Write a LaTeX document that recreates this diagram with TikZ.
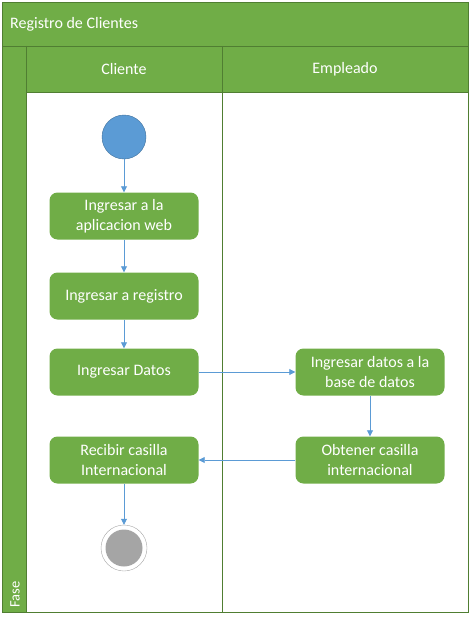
\documentclass[tikz,border=0pt]{standalone}
\usepackage{fontspec}
\setmainfont{Carlito}
\usetikzlibrary{arrows.meta}
\definecolor{verde}{HTML}{70AD47}
\definecolor{verdeosc}{HTML}{507E32}
\definecolor{azul}{HTML}{5B9BD5}
\definecolor{azulosc}{HTML}{41719C}
\definecolor{gris}{HTML}{A5A5A5}

\begin{document}
\begin{tikzpicture}[x=1pt,y=-1pt,font=\fontsize{16}{19.5}\selectfont,
  paso/.style={rectangle,rounded corners=8pt,fill=verde,text=white,
    minimum width=149pt,minimum height=47pt,align=center,inner sep=2pt},
  flecha/.style={draw=azul,line width=0.8pt,-{Triangle[length=6pt,width=6pt]}},
  rotulo/.style={text=white,inner sep=0pt}]
\useasboundingbox (0,0) rectangle (470,618);
% marco y carriles
\fill[verde] (2,2) rectangle (468,92);
\fill[verde] (2,92) rectangle (26,612);
\draw[verdeosc,line width=0.8pt] (2,2) rectangle (468,612);
\draw[verdeosc,line width=0.8pt] (2,46) -- (468,46) (26,46) -- (26,612)
  (26,92) -- (468,92) (222,46) -- (222,612);
\node[rotulo,anchor=west] (T-0) at (10,24) {Registro de Clientes};
\node[rotulo] (C-1) at (124,69) {Cliente};
\node[rotulo] (C-2) at (345,69) {Empleado};
\node[rotulo,rotate=90,anchor=west,font=\fontsize{14.5}{17}\selectfont] (F-0) at (15,608) {Fase};
% inicio
\node[circle,fill=azul,draw=azulosc,minimum size=44pt,inner sep=0pt] (Ini) at (124,137) {};
% carril Cliente
\foreach \X/\Z [count=\Y] in {216/{Ingresar a la\\aplicacion web},296/Ingresar a registro,
  372/Ingresar Datos,460/{Recibir casilla\\Internacional}}
  \node[paso] (A-\Y) at (124,\X) {\Z};
% carril Empleado
\node[paso] (B-1) at (370,372) {Ingresar datos a la\\base de datos};
\node[paso] (B-2) at (370,460) {Obtener casilla\\internacional};
% fin
\node[circle,draw=gris,fill=white,minimum size=46pt,inner sep=0pt] (Fin) at (124,548) {};
\node[circle,fill=gris,minimum size=37pt,inner sep=0pt] (Fin-1) at (Fin) {};
% flujo
\draw[flecha] (Ini) -- (A-1);
\foreach \Y [count=\Z from 2] in {1,2}
  \draw[flecha] (A-\Y) -- (A-\Z);
\draw[flecha] (A-3) -- (B-1);
\draw[flecha] (B-1) -- (B-2);
\draw[flecha] (B-2) -- (A-4);
\draw[flecha] (A-4) -- (Fin);
\end{tikzpicture}
\end{document}
